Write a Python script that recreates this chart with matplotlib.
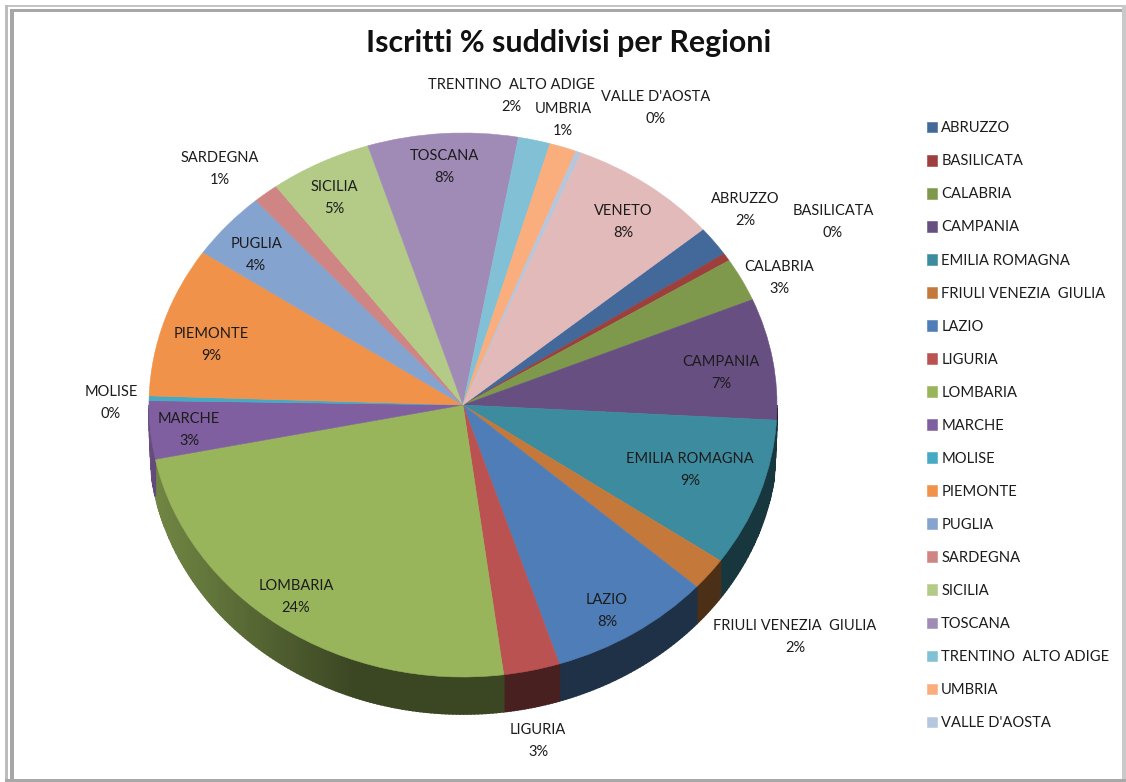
"""
Iscritti % suddivisi per Regioni - 3D looking pie, excel style
"""
import numpy as np
import matplotlib
matplotlib.use("Agg")
import matplotlib.pyplot as plt
from matplotlib.colors import to_rgb
from matplotlib.patches import Rectangle

W, H = 1126, 782

regions = ["ABRUZZO", "BASILICATA", "CALABRIA", "CAMPANIA", "EMILIA ROMAGNA",
           "FRIULI VENEZIA  GIULIA", "LAZIO", "LIGURIA", "LOMBARIA", "MARCHE",
           "MOLISE", "PIEMONTE", "PUGLIA", "SARDEGNA", "SICILIA", "TOSCANA",
           "TRENTINO  ALTO ADIGE", "UMBRIA", "VALLE D'AOSTA", "VENETO"]
shares = [1.78, 0.47, 2.58, 7.22, 8.81, 1.94, 8.39, 2.89, 23.86, 3.45,
          0.28, 8.94, 4.06, 1.31, 5.25, 7.72, 1.64, 1.39, 0.28, 7.69]
colors = ["#43699A", "#9D3F3C", "#7F994C", "#674F82", "#3D8B9E", "#C4793A",
          "#4F7DB7", "#B95251", "#98B55B", "#7F5F9F", "#46AAC4", "#F0924A",
          "#85A3CF", "#CF8584", "#B3CB86", "#A08BB7", "#82C0D5", "#FAAE7E",
          "#B5C6DF", "#E2BAB9"]
# label centres, in pixels of the picture
label_px = [(745, 210), (833, 222), (779, 278), (721, 373), (690, 470), (795, 637),
            (607, 611), (538, 741), (296, 597), (189, 430), (111, 403), (211, 345),
            (256, 255), (220, 169), (334, 198), (444, 167), (511, 96), (563, 120),
            (656, 108), (623, 222)]

# --- pie geometry ---------------------------------------------------------
CX, CY = 463, 405
RX, RY = 314, 272
DEPTH = 37 / RY
START = 90 - 49.8     # first slice begins here, going clockwise

plt.rcParams["font.family"] = ["Lato", "DejaVu Sans"]
TXT = "#1c1c1c"

fig = plt.figure(figsize=(W / 100, H / 100), dpi=100)
ax = fig.add_axes([0, 0, 1, 1])

wedges, _ = ax.pie(shares, colors=colors, startangle=START, counterclock=False,
                   wedgeprops={"linewidth": 0.4, "zorder": 3})
for w, c in zip(wedges, colors):
    w.set_edgecolor(c)
ax.set_aspect("auto")
ax.set_xlim(-CX / RX, (W - CX) / RX)
ax.set_ylim((CY - H) / RY, CY / RY)


def shade(x):
    # side wall gets darker going from the left rim to the middle
    return np.interp(x, [-1.0, -0.97, -0.35, 1.0], [0.84, 0.74, 0.39, 0.39])


def wall(th):
    # wall height fades out right at the left and right ends of the rim
    return DEPTH * np.clip((np.abs(np.sin(th)) - 0.02) / 0.12, 0, 1)


# side wall, thin strips along the front part of each slice
total = sum(shares)
edges = START - np.cumsum([0] + shares) * 360 / total
for i, c in enumerate(colors):
    base = np.array(to_rgb(c))
    hi, lo = edges[i], edges[i + 1]
    for off in (0, -360):
        a, b = max(lo + off, -180), min(hi + off, 0)
        if b <= a:
            continue
        steps = np.linspace(a, b, max(2, int((b - a) * 1.5) + 2))
        for t0, t1 in zip(steps[:-1], steps[1:]):
            th = np.radians([t0, t1, t1, t0])
            xs = np.cos(th)
            ys = np.sin(th) - wall(th) * np.array([0, 0, 1, 1])
            col = base * shade(xs.mean())
            ax.fill(xs, ys, color=col, lw=1.2, zorder=2)

# --- texts ----------------------------------------------------------------
for name, val, (px, py) in zip(regions, shares, label_px):
    fig.text(px / W, 1 - py / H, f"{name}\n{val:.0f}%", ha="center", va="center",
             fontsize=10.5, color=TXT, linespacing=1.68, zorder=5)

fig.text(569 / W, 1 - 43 / H, "Iscritti % suddivisi per Regioni", ha="center",
         va="center", fontsize=21.9, fontweight="bold", color="#111111")

# the legend of the original stops at VALLE D'AOSTA
fig.legend(wedges[:-1], regions[:-1], loc="upper left",
           bbox_to_anchor=(921 / W, 1 - 115.5 / H),
           frameon=False, fontsize=10.6, handlelength=0.72, handleheight=0.72,
           handletextpad=0.25, labelspacing=1.293, labelcolor=TXT, borderpad=0.4,
           borderaxespad=0)

# --- window border --------------------------------------------------------
for x, y, w, h, c in [(5, 5, W - 5, 1.5, "#c4c4c4"), (5, 5, 2.5, H - 5, "#bdbdbd"),
                      (10, 9, W - 14, 2.5, "#a6a6a6"), (10, 9, 4, H - 12, "#a6a6a6"),
                      (W - 4, 5, 4, H - 5, "#c9c9c9"), (5, H - 3, W - 5, 3, "#a8a8a8")]:
    fig.add_artist(Rectangle((x / W, 1 - (y + h) / H), w / W, h / H, color=c,
                             lw=0, transform=fig.transFigure))

fig.savefig("out.png", dpi=100)
